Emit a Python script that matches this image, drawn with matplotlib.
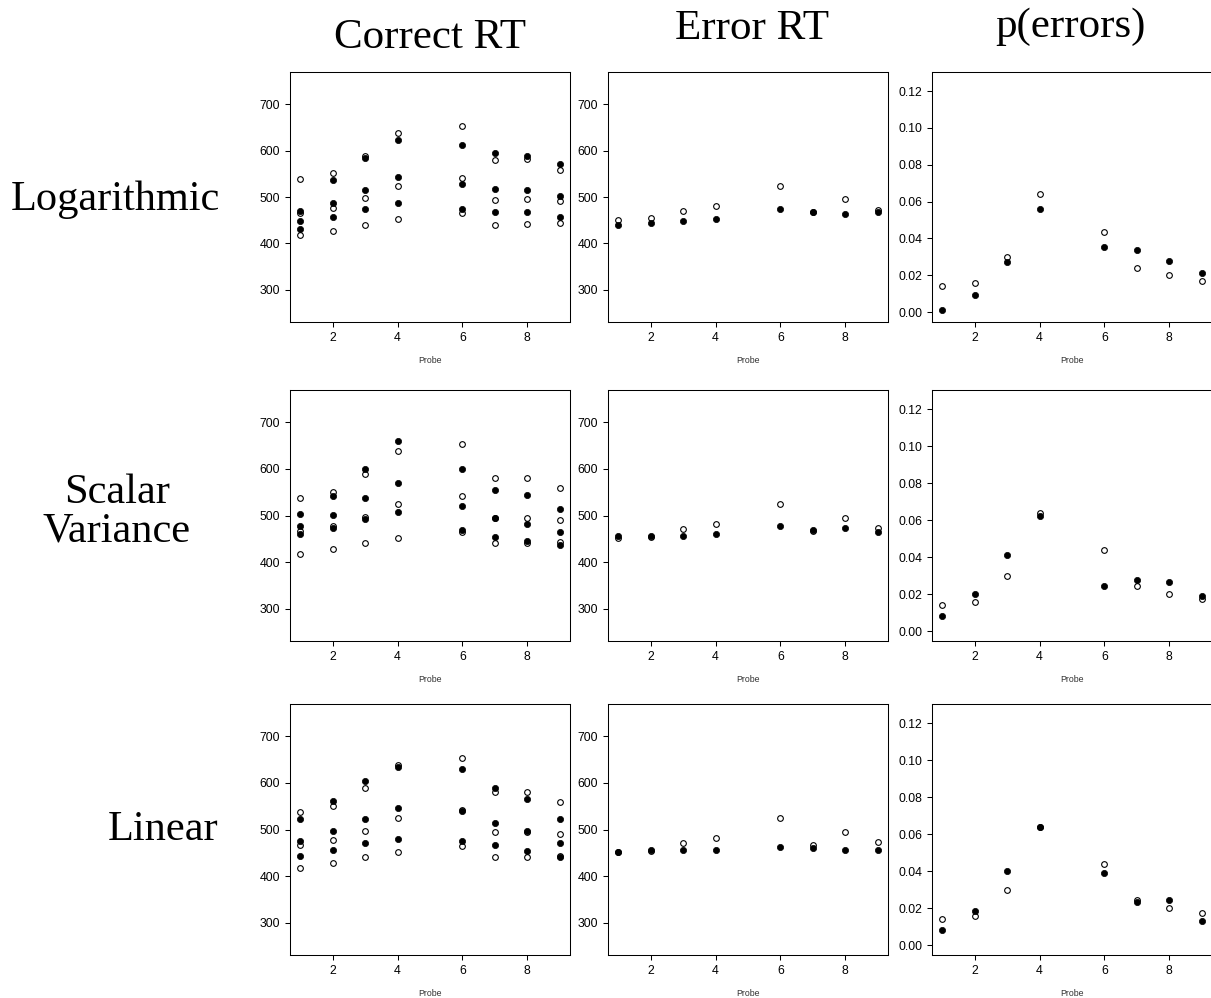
import matplotlib as mpl
import matplotlib.pyplot as plt

mpl.rcParams.update({
    "font.family": "Liberation Sans",
    "axes.linewidth": 0.75,
    "xtick.direction": "out", "ytick.direction": "out",
    "xtick.major.size": 3.6, "ytick.major.size": 3.6,
    "xtick.major.width": 0.75, "ytick.major.width": 0.75,
    "xtick.major.pad": 3.4, "ytick.major.pad": 3.4,
    "xtick.labelsize": 8.8, "ytick.labelsize": 8.8,
})

W, H = 1211, 998

probe = [1, 2, 3, 4, 6, 7, 8, 9]

# observed data (open circles), the same in every row
obs_correct = [
    [538, 551, 589, 638, 653, 580, 581, 558],
    [466, 477, 497, 524, 541, 494, 495, 491],
    [418, 427, 440, 452, 465, 440, 441, 444],
]
obs_error = [451, 454, 470, 481, 524, 467, 495, 473]
obs_perr = [0.0140, 0.0158, 0.0297, 0.0641, 0.0437, 0.0241, 0.0200, 0.0171]

# model predictions (filled circles)
log_correct = [
    [470, 536, 585, 622, 612, 595, 589, 571],
    [449, 487, 515, 543, 528, 518, 516, 502],
    [431, 457, 474, 487, 474, 467, 467, 457],
]
log_error = [440, 445, 449, 453, 474, 467, 463, 467]
log_perr = [0.0009, 0.0095, 0.0270, 0.0561, 0.0351, 0.0336, 0.0277, 0.0212]

sv_correct = [
    [504, 541, 600, 660, 600, 555, 544, 514],
    [478, 502, 537, 570, 521, 494, 481, 464],
    [460, 474, 493, 507, 468, 453, 445, 437],
]
sv_error = [455, 455, 457, 460, 478, 468, 474, 465]
sv_perr = [0.0079, 0.0201, 0.0413, 0.0620, 0.0243, 0.0278, 0.0266, 0.0189]

lin_correct = [
    [522, 561, 604, 634, 629, 590, 565, 523],
    [475, 496, 522, 547, 540, 513, 496, 470],
    [444, 457, 470, 479, 475, 466, 453, 441],
]
lin_error = [452, 457, 456, 457, 462, 461, 457, 457]
lin_perr = [0.0079, 0.0185, 0.0403, 0.0637, 0.0392, 0.0232, 0.0243, 0.0128]

model_names = ["Logarithmic", "Scalar\nVariance", "Linear"]
col_titles = ["Correct RT", "Error RT", "p(errors)"]
models = [
    (log_correct, log_error, log_perr),
    (sv_correct, sv_error, sv_perr),
    (lin_correct, lin_error, lin_perr),
]

# panel edges in pixels
cols = [(290, 570), (608, 888), (932, 1212)]
rows = [(72, 322), (390, 641), (704, 955)]


def rect(l, r, t, b):
    return [l / W, 1 - b / H, (r - l) / W, (b - t) / H]


def open_pts(ax, y):
    ax.plot(probe, y, "o", ls="none", ms=4.1, mfc="white", mec="black", mew=0.8)


def filled_pts(ax, y):
    ax.plot(probe, y, "o", ls="none", ms=4.5, mfc="black", mec="black", mew=0.5)


fig = plt.figure(figsize=(W / 100, H / 100), dpi=100)

for i, (correct, error, perr) in enumerate(models):
    t, b = rows[i]
    for j in range(3):
        ax = fig.add_axes(rect(cols[j][0], cols[j][1], t, b))
        if j == 0:
            for s in obs_correct:
                open_pts(ax, s)
            for s in correct:
                filled_pts(ax, s)
        elif j == 1:
            open_pts(ax, obs_error)
            filled_pts(ax, error)
        else:
            open_pts(ax, obs_perr)
            filled_pts(ax, perr)

        ax.set_xlim(0.68, 9.32)
        ax.set_xticks([2, 4, 6, 8])
        if j < 2:
            ax.set_ylim(230.5, 769.5)
            ax.set_yticks([300, 400, 500, 600, 700])
        else:
            ax.set_ylim(-0.0054, 0.1304)
            ax.set_yticks([0.00, 0.02, 0.04, 0.06, 0.08, 0.10, 0.12])
            ax.set_yticklabels([f"{v:.2f}" for v in ax.get_yticks()])
        ax.set_xlabel("Probe", fontsize=6.3, labelpad=8.5, color="#333333")

fig.text(430 / W, 1 - 38 / H, col_titles[0], family="Liberation Serif",
         fontsize=31, ha="center", va="center")
fig.text(752 / W, 1 - 29 / H, col_titles[1], family="Liberation Serif",
         fontsize=31, ha="center", va="center")
fig.text(1070 / W, 1 - 27 / H, col_titles[2], family="Liberation Serif",
         fontsize=31, ha="center", va="center")

label_pos = [(115, 200), (117, 512), (163, 830)]
for name, (x, y) in zip(model_names, label_pos):
    fig.text(x / W, 1 - y / H, name, family="Liberation Serif", fontsize=30.5,
             ha="center", va="center", multialignment="center", linespacing=1.0)

fig.savefig("out.png", dpi=100)
